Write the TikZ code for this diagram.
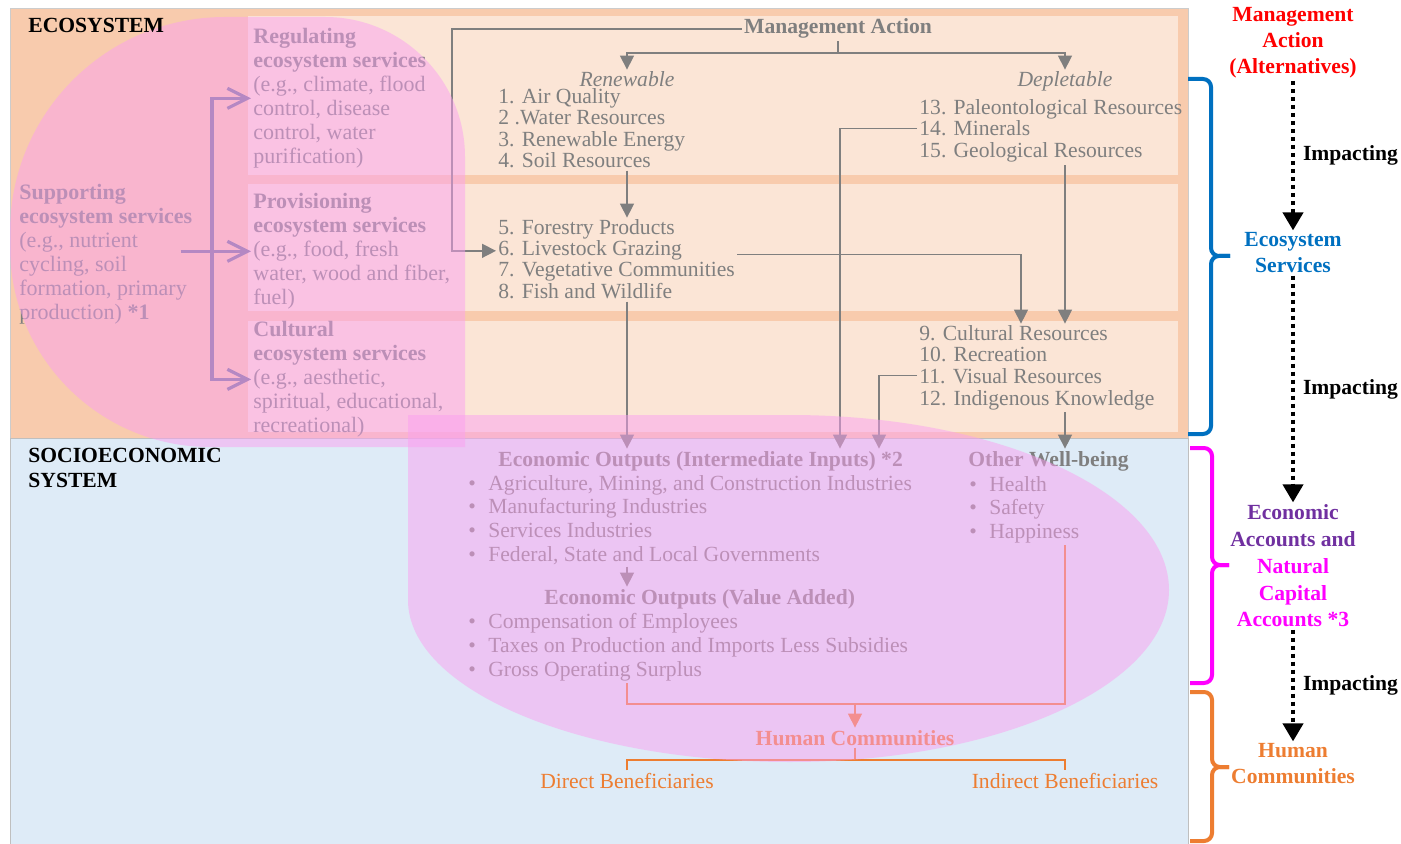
\documentclass[tikz,border=0pt]{standalone}
\usepackage{fontspec}
\setmainfont{Liberation Serif}
\usetikzlibrary{arrows.meta}

\definecolor{peach}{HTML}{F8CBAD}
\definecolor{peachlight}{HTML}{FBE5D6}
\definecolor{socblue}{HTML}{DEEBF7}
\definecolor{txtgray}{HTML}{7F7F7F}
\definecolor{ovl}{RGB}{250,160,240}
\definecolor{supline}{RGB}{112,112,150}
\definecolor{hcorange}{HTML}{ED7D31}
\definecolor{esblue}{HTML}{0070C0}
\definecolor{eapurple}{HTML}{7030A0}
\definecolor{ncmag}{HTML}{FF00FF}

\newcommand{\itembul}{\makebox[10pt][l]{\textbullet}}

\begin{document}
\begin{tikzpicture}[x=0.5pt, y=-0.5pt,
ItemStyle/.style={anchor=base west, inner sep=1pt, text=txtgray,
                font=\fontsize{10.8}{11}\selectfont},
HeadStyle/.style={ItemStyle, font=\fontsize{10.8}{11}\selectfont\bfseries},
SvcStyle/.style={anchor=north west, align=left, inner sep=1pt, text=txtgray,
                font=\fontsize{11}{12}\selectfont},
SideStyle/.style={align=center, inner sep=1pt,
                font=\fontsize{10.8}{13}\selectfont\bfseries},
LinkStyle/.style={draw=txtgray, line width=0.7pt},
ArrowStyle/.style={LinkStyle, -{Triangle[length=7pt,width=7pt]}},
OrLink/.style={draw=hcorange, line width=0.7pt},
OrArrow/.style={OrLink, -{Triangle[length=7pt,width=7pt]}},
SupArrow/.style={draw=supline, line width=1.6pt,
                -{Straight Barb[length=10pt,width=10pt]}},
ImpStyle/.style={line width=2pt, dash pattern=on 2pt off 2pt,
                -{Triangle[length=9pt,width=10pt]}},
ImpLabel/.style={right, xshift=3pt, inner sep=1pt,
                font=\fontsize{10.8}{11}\selectfont\bfseries},
BraceStyle/.style={line width=2pt, rounded corners=4pt},
OverStyle/.style={fill=ovl, fill opacity=0.5},]
\useasboundingbox (0,0) rectangle (1401,844);

% the two systems
\fill[peach, draw=black!20] (10,8) rectangle (1188,438);
\fill[socblue, draw=black!25] (10,438) rectangle (1188,844);
\fill[peachlight] (248,16) rectangle (1178,175);
\fill[peachlight] (248,184) rectangle (1178,311);
\fill[peachlight] (248,321) rectangle (1178,432);

% ecosystem services
\node [SvcStyle] (sup) at (17,182) {\textbf{Supporting}\\\textbf{ecosystem services}\\(e.g., nutrient\\cycling, soil\\formation, primary\\production) \textbf{*1}};
\node [SvcStyle] (reg) at (251,26) {\textbf{Regulating}\\\textbf{ecosystem services}\\(e.g., climate, flood\\control, disease\\control, water\\purification)};
\node [SvcStyle] (pro) at (251,191) {\textbf{Provisioning}\\\textbf{ecosystem services}\\(e.g., food, fresh\\water, wood and fiber,\\fuel)};
\node [SvcStyle] (cul) at (251,319) {\textbf{Cultural}\\\textbf{ecosystem services}\\(e.g., aesthetic,\\spiritual, educational,\\recreational)};

\node [HeadStyle, anchor=base] (ma) at (838,34) {Management Action};
\node [ItemStyle, anchor=base, font=\fontsize{10.8}{11}\selectfont\itshape] (ren) at (627,87) {Renewable};
\node [ItemStyle, anchor=base, font=\fontsize{10.8}{11}\selectfont\itshape] (dep) at (1065,87) {Depletable};
\node [ItemStyle] (i1) at (496,104) {1. Air Quality};
\node [ItemStyle] (i2) at (496,125) {2 .Water Resources};
\node [ItemStyle] (i3) at (496,147) {3. Renewable Energy};
\node [ItemStyle] (i4) at (496,168) {4. Soil Resources};
\node [ItemStyle] (i5) at (496,235) {5. Forestry Products};
\node [ItemStyle] (i6) at (496,256) {6. Livestock Grazing};
\node [ItemStyle] (i7) at (496,277) {7. Vegetative Communities};
\node [ItemStyle] (i8) at (496,299) {8. Fish and Wildlife};
\node [ItemStyle] (d13) at (917,115) {13. Paleontological Resources};
\node [ItemStyle] (d14) at (917,136) {14. Minerals};
\node [ItemStyle] (d15) at (917,158) {15. Geological Resources};
\node [ItemStyle] (c9) at (917,341) {9. Cultural Resources};
\node [ItemStyle] (c10) at (917,362) {10. Recreation};
\node [ItemStyle] (c11) at (917,383) {11. Visual Resources};
\node [ItemStyle] (c12) at (917,405) {12. Indigenous Knowledge};

% socioeconomic system
\node [HeadStyle] (eo1) at (496,466) {Economic Outputs (Intermediate Inputs) *2};
\node [ItemStyle] (b1) at (466,490) {\itembul Agriculture, Mining, and Construction Industries};
\node [ItemStyle] (b2) at (466,513) {\itembul Manufacturing Industries};
\node [ItemStyle] (b3) at (466,537) {\itembul Services Industries};
\node [ItemStyle] (b4) at (466,561) {\itembul Federal, State and Local Governments};
\node [HeadStyle] (eo2) at (542,604) {Economic Outputs (Value Added)};
\node [ItemStyle] (b5) at (466,628) {\itembul Compensation of Employees};
\node [ItemStyle] (b6) at (466,652) {\itembul Taxes on Production and Imports Less Subsidies};
\node [ItemStyle] (b7) at (466,676) {\itembul Gross Operating Surplus};
\node [HeadStyle] (ow) at (966,466) {Other Well-being};
\node [ItemStyle] (h1) at (967,491) {\itembul Health};
\node [ItemStyle] (h2) at (967,514) {\itembul Safety};
\node [ItemStyle] (h3) at (967,538) {\itembul Happiness};
\node [HeadStyle, anchor=base, text=hcorange] (hc) at (855,745) {Human Communities};
\node [ItemStyle, anchor=base, text=hcorange] (db) at (627,788) {Direct Beneficiaries};
\node [ItemStyle, anchor=base, text=hcorange] (ib) at (1065,788) {Indirect Beneficiaries};

% connectors
\coordinate (sx) at (212,0);
\draw [SupArrow] (sx |- pro.west) |- (reg.west);
\draw [SupArrow] (sx |- pro.west) |- (cul.west);
\draw [SupArrow] ([xshift=-7pt]sup.east |- pro.west) -- (pro.west);

\coordinate (mj) at (838,53);
\coordinate (lx) at (452,0);
\coordinate (vx) at (1021,0);
\coordinate (mx) at (840,0);
\coordinate (kx) at (879,0);
\draw [LinkStyle] (ma.south) -- (mj);
\draw [ArrowStyle] (mj) -| (ren.north);
\draw [ArrowStyle] (mj) -| (dep.north);
\draw [ArrowStyle] (ma.west) -| (lx |- i6.west) -- (i6.west);
\draw [ArrowStyle] (ren |- i4.south) -- (ren |- i5.north);
\draw [ArrowStyle] (ren |- i8.south) -- (ren |- eo1.north);
\draw [ArrowStyle] ([yshift=3pt]i7.north east) -| (vx |- c9.north);
\draw [ArrowStyle] (dep |- d15.south) -- (dep |- c9.north);
\draw [ArrowStyle] (d14.west) -| (mx |- eo1.north);
\draw [ArrowStyle] (c11.west) -| (kx |- eo1.north);
\draw [ArrowStyle] (dep |- c12.south) -- (dep |- ow.north);
\draw [ArrowStyle] (ren |- b4.south) -- (ren |- eo2.north);

\coordinate (hj) at (855,704);
\coordinate (bj) at (855,760);
\draw [OrLink] (ren |- b7.south) |- (hj);
\draw [OrLink] (dep |- h3.south) |- (hj);
\draw [OrArrow] (hj) -- (hc.north);
\draw [OrLink] (hc.south) -- (bj);
\draw [OrLink] (db.north) |- (bj) -| (ib.north);

% overlays
\fill [OverStyle] (465,447) -- (465,157) arc[start angle=0, end angle=-90, radius=140]
    -- (225,17) arc[start angle=-90, end angle=-180, radius=215]
    -- (10,247) arc[start angle=180, end angle=90, radius=200] -- cycle;
\fill [OverStyle] (408,415) -- (790,415)
    arc[start angle=-90, end angle=0, x radius=379, y radius=175]
    arc[start angle=0, end angle=90, x radius=379, y radius=172]
    arc[start angle=90, end angle=180, x radius=382, y radius=162] -- cycle;

\node [HeadStyle, text=black] (eco) at (26,33) {ECOSYSTEM};
\node [SvcStyle, text=black, font=\fontsize{10.8}{12.5}\selectfont\bfseries] (soc) at (26,446) {SOCIOECONOMIC\\SYSTEM};

% right column
\node [SideStyle, text=red] (rma) at (1293,43) {Management\\Action\\(Alternatives)};
\node [SideStyle, text=esblue] (res) at (1293,253) {Ecosystem\\Services};
\node [SideStyle, font=\fontsize{10.8}{13.4}\selectfont\bfseries] (rea) at (1293,566) {\textcolor{eapurple}{Economic}\\\textcolor{eapurple}{Accounts and}\\\textcolor{ncmag}{Natural}\\\textcolor{ncmag}{Capital}\\\textcolor{ncmag}{Accounts *3}};
\node [SideStyle, text=hcorange] (rhc) at (1293,764) {Human\\Communities};

\draw [ImpStyle] (rma) -- node [ImpLabel] {Impacting} (res);
\draw [ImpStyle] (res) -- node [ImpLabel] {Impacting} (rea);
\draw [ImpStyle] (rea) -- node [ImpLabel] {Impacting} (rhc);

\draw [BraceStyle, esblue] (1188,79) -- (1211,79) -- (1211,256) -- (1230,256);
\draw [BraceStyle, esblue] (1230,256) -- (1211,256) -- (1211,434) -- (1188,434);
\draw [BraceStyle, ncmag] (1190,448) -- (1212,448) -- (1212,565) -- (1229,565);
\draw [BraceStyle, ncmag] (1229,565) -- (1212,565) -- (1212,683) -- (1190,683);
\draw [BraceStyle, hcorange] (1190,692) -- (1212,692) -- (1212,767) -- (1229,767);
\draw [BraceStyle, hcorange] (1229,767) -- (1212,767) -- (1212,841) -- (1190,841);
\end{tikzpicture}
\end{document}
